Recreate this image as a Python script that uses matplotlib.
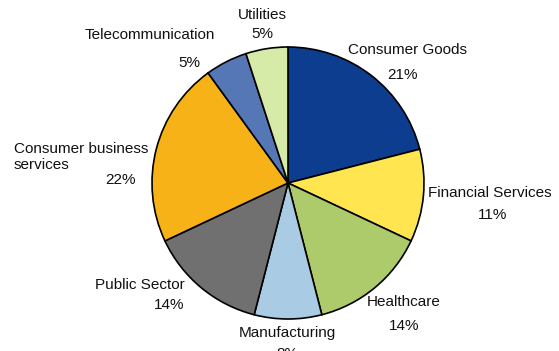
import matplotlib
matplotlib.use("Agg")
import matplotlib.pyplot as plt

# Revenue share by industry
industries = ["Consumer Goods", "Financial Services", "Healthcare", "Manufacturing",
              "Public Sector", "Consumer business\nservices", "Telecommunication", "Utilities"]
shares = [21, 11, 14, 8, 14, 22, 5, 5]
colors = ["#0C3D8E", "#FFE650", "#AECB6C", "#A9CBE3",
          "#707070", "#F7B217", "#5677B5", "#D5EBA7"]

W, H = 559, 351
fig = plt.figure(figsize=(W / 100, H / 100), dpi=100)
ax = fig.add_axes([0, 0, 1, 1])
plt.rcParams["font.family"] = ["Liberation Sans", "DejaVu Sans"]

cx, cy, r = 288, H - 183, 136
ax.pie(shares, colors=colors, startangle=90, counterclock=False,
       center=(cx, cy), radius=r,
       wedgeprops=dict(edgecolor="black", linewidth=1.2))
ax.set_xlim(0, W)
ax.set_ylim(0, H)
ax.set_aspect("equal")
ax.axis("off")

# label anchors in pixel coordinates: (name_x, name_y, pct_x, pct_y, name_ha)
anchors = [
    (407, 50, 403, 75, "center"),
    (490, 193, 493, 215, "center"),
    (404, 302, 404, 326, "center"),
    (287, 333, 287, 354, "center"),
    (140, 285, 169, 305, "center"),
    (14, 157, 120, 180, "left"),
    (150, 35, 189, 63, "center"),
    (262, 15, 262, 34, "center"),
]
fs = 11
for name, pct, (nx, ny, px, py, ha) in zip(industries, shares, anchors):
    ax.text(nx, H - ny, name, ha=ha, va="center", fontsize=fs, color="#111111",
            linespacing=1.15)
    ax.text(px, H - py, f"{pct}%", ha="center", va="center", fontsize=fs, color="#111111")

fig.savefig("out.png", dpi=100)
